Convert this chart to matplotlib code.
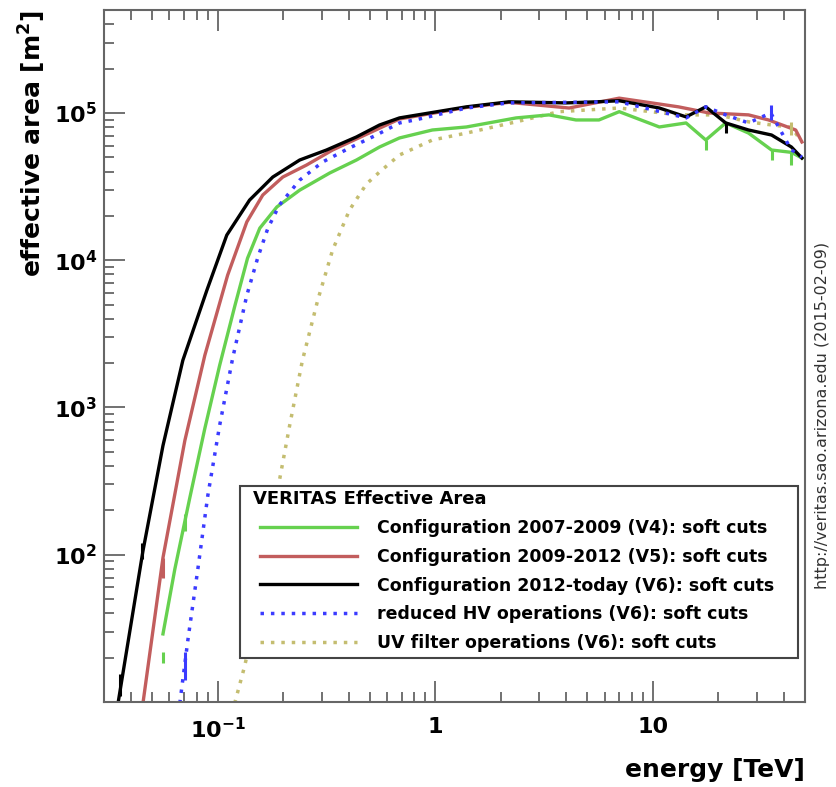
import numpy as np
import matplotlib.pyplot as plt
from matplotlib.patches import Rectangle
from matplotlib.ticker import FixedLocator, FixedFormatter, LogLocator, NullFormatter

plt.rcParams['font.family'] = 'DejaVu Sans'
plt.rcParams['font.weight'] = 'bold'
plt.rcParams['mathtext.fontset'] = 'custom'
plt.rcParams['mathtext.rm'] = 'DejaVu Sans:bold'
plt.rcParams['mathtext.it'] = 'DejaVu Sans:bold'
plt.rcParams['mathtext.bf'] = 'DejaVu Sans:bold'

# energy [TeV] / effective area [m^2]
e_v4 = [0.056, 0.0635, 0.0744, 0.0872, 0.102, 0.120, 0.137, 0.156, 0.187, 0.238, 0.327, 0.434,
        0.554, 0.684, 0.969, 1.39, 2.35, 3.33, 4.43, 5.65, 7.0, 10.7, 14.2, 17.5, 21.6, 27.5,
        35.1, 43.3, 48.4]
a_v4 = [29, 80, 244, 720, 1930, 4940, 10300, 16500, 23000, 29900, 39100, 47900,
        58700, 67600, 76600, 80300, 92500, 97000, 89600, 89600, 102000, 80300, 85500, 65500,
        85500, 73000, 56000, 54000, 49400]

e_v5 = [0.0453, 0.056, 0.0706, 0.0872, 0.111, 0.136, 0.161, 0.199, 0.256, 0.337, 0.684, 1.39,
        2.18, 4.12, 7.0, 13.1, 18.1, 27.5, 34.0, 45.3, 48.4]
a_v5 = [9.8, 95.5, 597, 2260, 7910, 18200, 27700, 36700, 44300, 56000, 91000, 109000,
        118000, 108000, 126000, 110000, 100000, 97000, 89600, 76600, 63500]

e_v6 = [0.0348, 0.0453, 0.056, 0.0691, 0.0891, 0.110, 0.140, 0.179, 0.238, 0.316, 0.434, 0.554,
        0.684, 1.39, 2.18, 4.0, 5.5, 7.0, 10.7, 14.2, 17.5, 21.6, 27.5, 35.1, 43.3, 48.4]
a_v6 = [9.8, 106, 551, 2090, 6250, 14800, 25600, 36700, 47900, 56000, 68700, 82800,
        92500, 110000, 119000, 117000, 119000, 121000, 108000, 94000, 110000, 85500, 76600,
        70800, 58700, 49400]

e_hv = [0.0669, 0.0728, 0.0810, 0.0900, 0.102, 0.117, 0.136, 0.153, 0.170, 0.192, 0.238, 0.303,
        0.403, 0.536, 0.684, 0.818, 1.39, 2.18, 7.0, 14.2, 17.5, 21.6, 27.5, 34.8, 43.3, 48.4]
a_hv = [9.8, 26, 80, 252, 755, 2150, 5780, 10500, 16500, 23700, 35000, 46400,
        57800, 70800, 85500, 90000, 108000, 117000, 119000, 92500, 110000, 97000, 85500, 100000,
        56000, 50000]

e_uv = [0.1196, 0.133, 0.153, 0.173, 0.192, 0.214, 0.245, 0.288, 0.337, 0.403, 0.482, 0.554,
        0.684, 0.969, 1.39, 2.35, 3.7, 7.0, 13.1, 20.0, 27.5, 34.8, 43.3, 48.4]
a_uv = [9.8, 17.6, 45, 135, 319, 755, 2090, 5350, 11700, 21900, 32900, 39700,
        51800, 65500, 73000, 87000, 102000, 108000, 97000, 97000, 87000, 83000, 80000, 63500]

# visible error bars (energy, lower, upper)
err_v4_e = [0.056, 0.0706, 17.5, 35.1, 43.3]
err_v4_lo = [18.5, 146, 56000, 48000, 44300]
err_v4_hi = [22, 190, 65500, 56000, 54000]
err_v5_e = [0.056]
err_v5_lo = [70]
err_v5_hi = [95]
err_v6_e = [0.0355, 0.0448, 21.6]
err_v6_lo = [11, 94, 73000]
err_v6_hi = [15.5, 120, 85500]
err_hv_e = [0.0706, 34.8]
err_hv_lo = [14, 90000]
err_hv_hi = [22, 113000]
err_uv_e = [43.3]
err_uv_lo = [71000]
err_uv_hi = [87000]

legend_title = 'VERITAS Effective Area'
labels = ['Configuration 2007-2009 (V4): soft cuts',
          'Configuration 2009-2012 (V5): soft cuts',
          'Configuration 2012-today (V6): soft cuts',
          'reduced HV operations (V6): soft cuts',
          'UV filter operations (V6): soft cuts']

xticks = [0.1, 1, 10]
xticklabels = ['$10^{-1}$', '1', '10']
yticks = [1e2, 1e3, 1e4, 1e5]
yticklabels = ['$10^{2}$', '$10^{3}$', '$10^{4}$', '$10^{5}$']

c_v4, c_v5, c_v6, c_hv, c_uv = '#66d14f', '#c25d5d', 'black', '#3b3bff', '#c4bd70'

fig = plt.figure(figsize=(8.36, 7.87), dpi=100)
ax = fig.add_axes([104/836, 1-702/787, 701/836, 692/787])

dot = (0, (1, 2))
l_uv, = ax.plot(e_uv, a_uv, color=c_uv, lw=2.5, ls=dot)
l_v4, = ax.plot(e_v4, a_v4, color=c_v4, lw=2.4)
l_v5, = ax.plot(e_v5, a_v5, color=c_v5, lw=2.4)
l_v6, = ax.plot(e_v6, a_v6, color=c_v6, lw=2.4)
l_hv, = ax.plot(e_hv, a_hv, color=c_hv, lw=2.5, ls=dot)

ax.vlines(err_uv_e, err_uv_lo, err_uv_hi, color=c_uv, lw=2.2)
ax.vlines(err_v4_e, err_v4_lo, err_v4_hi, color=c_v4, lw=2.2)
ax.vlines(err_v5_e, err_v5_lo, err_v5_hi, color=c_v5, lw=2.2)
ax.vlines(err_v6_e, err_v6_lo, err_v6_hi, color=c_v6, lw=2.2)
ax.vlines(err_hv_e, err_hv_lo, err_hv_hi, color=c_hv, lw=2.2)

ax.set_xscale('log')
ax.set_yscale('log')
ax.set_xlim(0.03, 50)
ax.set_ylim(10, 5e5)

ax.xaxis.set_major_locator(FixedLocator(xticks))
ax.xaxis.set_major_formatter(FixedFormatter(xticklabels))
ax.yaxis.set_major_locator(FixedLocator(yticks))
ax.yaxis.set_major_formatter(FixedFormatter(yticklabels))
ax.xaxis.set_minor_locator(LogLocator(base=10, subs=np.arange(2, 10)))
ax.yaxis.set_minor_locator(LogLocator(base=10, subs=np.arange(2, 10)))
ax.xaxis.set_minor_formatter(NullFormatter())
ax.yaxis.set_minor_formatter(NullFormatter())

ax.tick_params(which='both', direction='in', top=True, right=False, color='#666666', width=1.3)
ax.tick_params(which='major', length=15)
ax.tick_params(which='minor', length=7)
ax.tick_params(axis='x', which='major', pad=11, labelsize=16)
ax.tick_params(axis='y', which='major', pad=5, labelsize=16)
for s in ax.spines.values():
    s.set_color('#666666')
    s.set_linewidth(1.5)

fig.text(32/836, 1-10/787, 'effective area [m$^{2}$]', rotation=90, ha='center', va='top',
         fontsize=18, fontweight='bold')
fig.text(805/836, 1-770/787, 'energy [TeV]', ha='right', va='center', fontsize=18, fontweight='bold')
fig.text(822/836, 1-415/787, 'http://veritas.sao.arizona.edu (2015-02-09)', rotation=90,
         ha='center', va='center', fontsize=11.5, fontweight='normal', color='#333333')

# legend box (ROOT style): frame, title, entries
box = Rectangle((240/836, 1-658/787), 558/836, 172/787, transform=fig.transFigure,
                facecolor='white', edgecolor='#444444', lw=1.5, zorder=4, clip_on=False)
ax.add_patch(box)
ax.text(253/836, 1-499/787, legend_title, transform=fig.transFigure, ha='left', va='center',
        fontsize=13, fontweight='bold', zorder=6)
leg = ax.legend([l_v4, l_v5, l_v6, l_hv, l_uv], labels, loc='upper left',
                bbox_to_anchor=(260/836, 1-519/787), bbox_transform=fig.transFigure,
                prop={'weight': 'bold', 'size': 12.5},
                handlelength=5.6, handletextpad=1.15, borderpad=0, labelspacing=0.62,
                borderaxespad=0, frameon=False)
leg.set_zorder(6)

fig.savefig('out.png', dpi=100)
